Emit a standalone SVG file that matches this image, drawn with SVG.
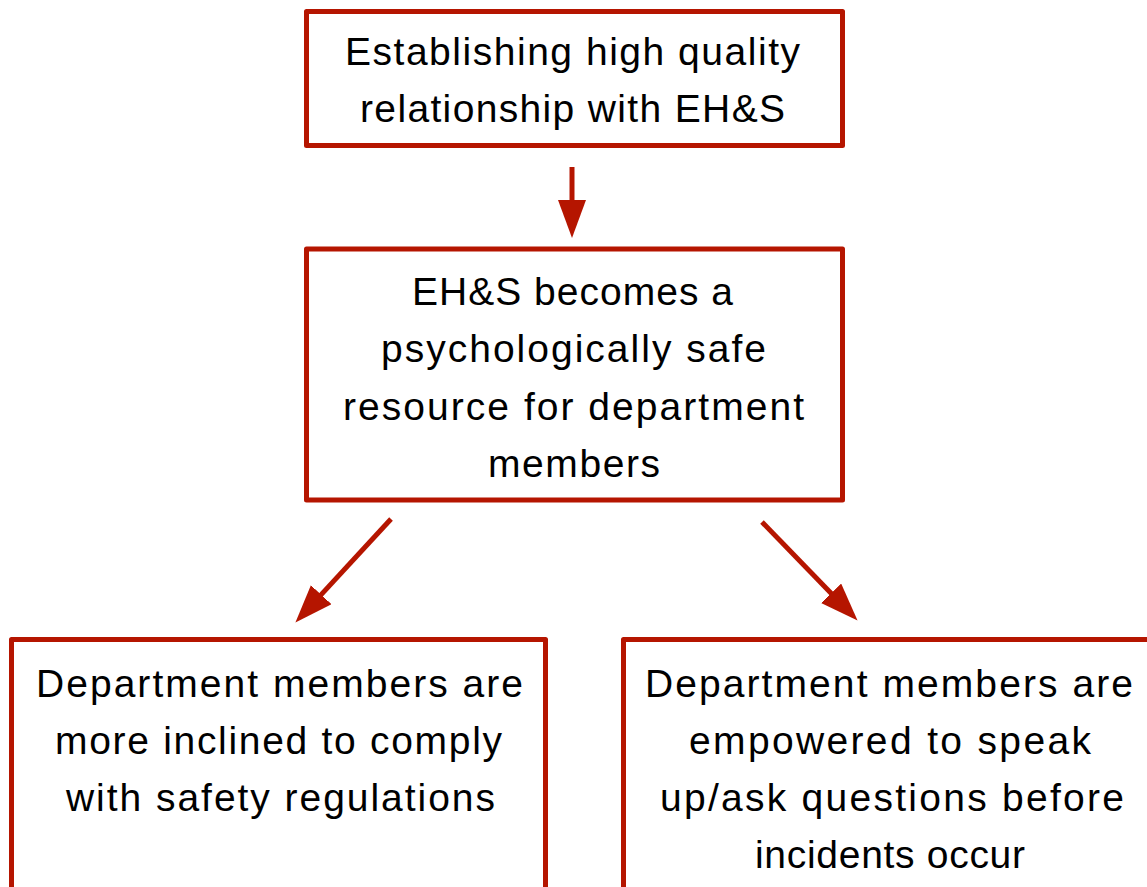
<svg xmlns="http://www.w3.org/2000/svg" width="1147" height="887" viewBox="0 0 1147 887">
<style>
.box{fill:#fff;stroke:#B51500;stroke-width:5;stroke-linejoin:round}
.t{font-family:"Liberation Sans",Arial,sans-serif;font-size:39px;fill:#000;text-anchor:middle}
.c{stroke:#B51500;stroke-width:5;fill:none}
</style>
<defs>
<marker id="ah" markerUnits="userSpaceOnUse" markerWidth="40" markerHeight="30" refX="1" refY="14" orient="auto">
<path d="M0,0 L38,14 L0,28 Z" fill="#B51500"/>
</marker>
</defs>
<rect width="1147" height="887" fill="#fff"/>
<g id="n1">
<rect class="box" x="306.5" y="11.5" width="536" height="134"/>
<text class="t" x="572.5" y="65" textLength="455" lengthAdjust="spacing">Establishing high quality</text>
<text class="t" x="572.5" y="122" textLength="425" lengthAdjust="spacing">relationship with EH&amp;S</text>
</g>
<g id="n2">
<rect class="box" x="306.5" y="249" width="536" height="251"/>
<text class="t" x="572.5" y="305" textLength="321" lengthAdjust="spacing">EH&amp;S becomes a</text>
<text class="t" x="573.5" y="362" textLength="385" lengthAdjust="spacing">psychologically safe</text>
<text class="t" x="573.5" y="420" textLength="461" lengthAdjust="spacing">resource for department</text>
<text class="t" x="574" y="477" textLength="172" lengthAdjust="spacing">members</text>
</g>
<g id="n3">
<rect class="box" x="11.5" y="639.5" width="534" height="260"/>
<text class="t" x="279.5" y="697" textLength="487" lengthAdjust="spacing">Department members are</text>
<text class="t" x="278.5" y="754" textLength="447" lengthAdjust="spacing">more inclined to comply</text>
<text class="t" x="280.5" y="811" textLength="429" lengthAdjust="spacing">with safety regulations</text>
</g>
<g id="n4">
<rect class="box" x="623.5" y="639.5" width="536" height="260"/>
<text class="t" x="889" y="697" textLength="488" lengthAdjust="spacing">Department members are</text>
<text class="t" x="890" y="754" textLength="402" lengthAdjust="spacing">empowered to speak</text>
<text class="t" x="892" y="811" textLength="464" lengthAdjust="spacing">up/ask questions before</text>
<text class="t" x="890" y="868" textLength="270" lengthAdjust="spacing">incidents occur</text>
</g>
<g id="connectors">
<line class="c" x1="572" y1="167" x2="572" y2="201" marker-end="url(#ah)"/>
<line class="c" x1="391" y1="519" x2="320.5" y2="595.4" marker-end="url(#ah)"/>
<line class="c" x1="762" y1="522" x2="831.8" y2="594" marker-end="url(#ah)"/>
</g>
</svg>
